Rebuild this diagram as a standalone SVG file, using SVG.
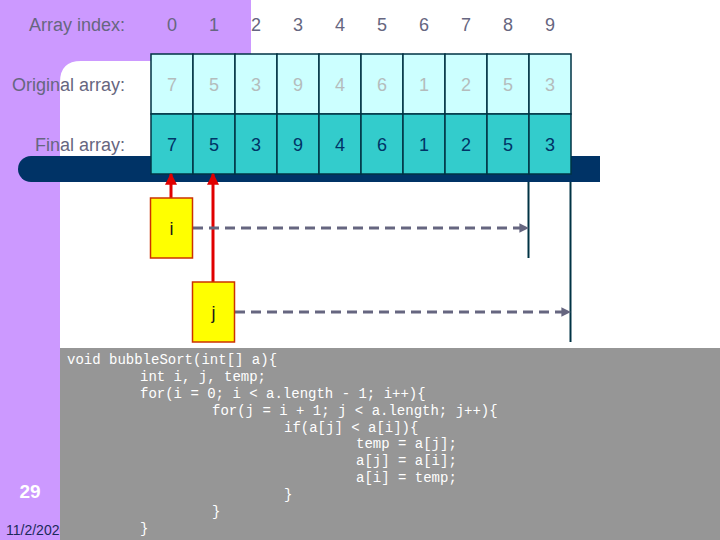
<svg xmlns="http://www.w3.org/2000/svg" width="720" height="540" viewBox="0 0 720 540">
<defs>
<style>
.lbl{font-family:"Liberation Sans",Arial,sans-serif;font-size:18px;fill:#666680}
.idx{font-family:"Liberation Sans",Arial,sans-serif;font-size:18px;fill:#666680;text-anchor:middle}
.orig{fill:#ccffff;stroke:#003344;stroke-width:1.5}
.fin{fill:#33cccc;stroke:#003344;stroke-width:1.5}
.ot{font-family:"Liberation Sans",Arial,sans-serif;font-size:18px;fill:#b4bcbc;text-anchor:middle}
.ft{font-family:"Liberation Sans",Arial,sans-serif;font-size:18px;fill:#003366;text-anchor:middle}
.box{fill:#ffff00;stroke:#cc3300;stroke-width:1.5}
.bt{font-family:"Liberation Sans",Arial,sans-serif;font-size:18px;fill:#1a1a1a;text-anchor:middle}
.red{stroke:#e00000;stroke-width:3;fill:none}
.dash{stroke:#666680;stroke-width:3;stroke-dasharray:10 6;fill:none}
.vl{stroke:#003344;stroke-width:2}
.code{font-family:"Liberation Mono","Courier New",monospace;font-size:14px;fill:#ffffff;white-space:pre}
</style>
<marker id="ra" viewBox="0 0 10 10" refX="9" refY="5" markerWidth="4" markerHeight="4" orient="auto" markerUnits="strokeWidth"><path d="M0,0 L10,5 L0,10 Z" fill="#e00000"/></marker>
<marker id="ga" viewBox="0 0 10 10" refX="9" refY="5" markerWidth="3.2" markerHeight="3.2" orient="auto" markerUnits="strokeWidth"><path d="M0,0 L10,5 L0,10 Z" fill="#666680"/></marker>
</defs>
<rect x="0" y="0" width="720" height="540" fill="#ffffff"/>
<path d="M0,0 H251 V61 H81 Q60,61 60,82 V540 H0 Z" fill="#cc99ff"/>
<path d="M31,156 H600 V182 H31 A13,13 0 0 1 31,156 Z" fill="#003366"/>
<g id="labels">
<text class="lbl" x="125" y="30.5" text-anchor="end">Array index:</text>
<text class="lbl" x="125" y="91" text-anchor="end">Original array:</text>
<text class="lbl" x="125" y="151" text-anchor="end">Final array:</text>
</g>
<g id="index">
<text class="idx" x="172" y="30.5">0</text><text class="idx" x="214" y="30.5">1</text><text class="idx" x="256" y="30.5">2</text><text class="idx" x="298" y="30.5">3</text><text class="idx" x="340" y="30.5">4</text><text class="idx" x="382" y="30.5">5</text><text class="idx" x="424" y="30.5">6</text><text class="idx" x="466" y="30.5">7</text><text class="idx" x="508" y="30.5">8</text><text class="idx" x="550" y="30.5">9</text>
</g>
<g id="original">
<rect class="orig" x="151" y="54" width="42" height="60"/><rect class="orig" x="193" y="54" width="42" height="60"/><rect class="orig" x="235" y="54" width="42" height="60"/><rect class="orig" x="277" y="54" width="42" height="60"/><rect class="orig" x="319" y="54" width="42" height="60"/><rect class="orig" x="361" y="54" width="42" height="60"/><rect class="orig" x="403" y="54" width="42" height="60"/><rect class="orig" x="445" y="54" width="42" height="60"/><rect class="orig" x="487" y="54" width="42" height="60"/><rect class="orig" x="529" y="54" width="42" height="60"/>
<text class="ot" x="172" y="91">7</text><text class="ot" x="214" y="91">5</text><text class="ot" x="256" y="91">3</text><text class="ot" x="298" y="91">9</text><text class="ot" x="340" y="91">4</text><text class="ot" x="382" y="91">6</text><text class="ot" x="424" y="91">1</text><text class="ot" x="466" y="91">2</text><text class="ot" x="508" y="91">5</text><text class="ot" x="550" y="91">3</text>
</g>
<g id="final">
<rect class="fin" x="151" y="114" width="42" height="60"/><rect class="fin" x="193" y="114" width="42" height="60"/><rect class="fin" x="235" y="114" width="42" height="60"/><rect class="fin" x="277" y="114" width="42" height="60"/><rect class="fin" x="319" y="114" width="42" height="60"/><rect class="fin" x="361" y="114" width="42" height="60"/><rect class="fin" x="403" y="114" width="42" height="60"/><rect class="fin" x="445" y="114" width="42" height="60"/><rect class="fin" x="487" y="114" width="42" height="60"/><rect class="fin" x="529" y="114" width="42" height="60"/>
<text class="ft" x="172" y="151">7</text><text class="ft" x="214" y="151">5</text><text class="ft" x="256" y="151">3</text><text class="ft" x="298" y="151">9</text><text class="ft" x="340" y="151">4</text><text class="ft" x="382" y="151">6</text><text class="ft" x="424" y="151">1</text><text class="ft" x="466" y="151">2</text><text class="ft" x="508" y="151">5</text><text class="ft" x="550" y="151">3</text>
</g>
<g id="connectors">
<line class="vl" x1="528.5" y1="182" x2="528.5" y2="258"/>
<line class="vl" x1="570.5" y1="182" x2="570.5" y2="342"/>
<line class="red" x1="171" y1="198" x2="171" y2="174" marker-end="url(#ra)"/>
<line class="red" x1="213" y1="282" x2="213" y2="174" marker-end="url(#ra)"/>
<line class="dash" x1="193" y1="228" x2="528" y2="228" marker-end="url(#ga)"/>
<line class="dash" x1="235" y1="312" x2="570" y2="312" marker-end="url(#ga)"/>
</g>
<g id="node-i">
<rect class="box" x="150.5" y="198" width="42" height="60"/>
<text class="bt" x="171.5" y="235">i</text>
</g>
<g id="node-j">
<rect class="box" x="192.5" y="282" width="42" height="60"/>
<text class="bt" x="213.5" y="319">j</text>
</g>
<text x="6" y="535" font-family="'Liberation Sans',Arial,sans-serif" font-size="14" fill="#1a2a5a">11/2/2020</text>
<rect x="60" y="348" width="660" height="192" fill="#969696"/>
<text x="30" y="498" font-family="'Liberation Sans',Arial,sans-serif" font-size="19" font-weight="bold" fill="#ffffff" text-anchor="middle">29</text>
<g id="code" class="code">
<text x="67" y="364">void bubbleSort(int[] a){</text>
<text x="140" y="381">int i, j, temp;</text>
<text x="140" y="398">for(i = 0; i &lt; a.length - 1; i++){</text>
<text x="212" y="415">for(j = i + 1; j &lt; a.length; j++){</text>
<text x="284" y="432">if(a[j] &lt; a[i]){</text>
<text x="356" y="448">temp = a[j];</text>
<text x="356" y="465">a[j] = a[i];</text>
<text x="356" y="482">a[i] = temp;</text>
<text x="284" y="499">}</text>
<text x="212" y="516">}</text>
<text x="140" y="533">}</text>
</g>
</svg>
